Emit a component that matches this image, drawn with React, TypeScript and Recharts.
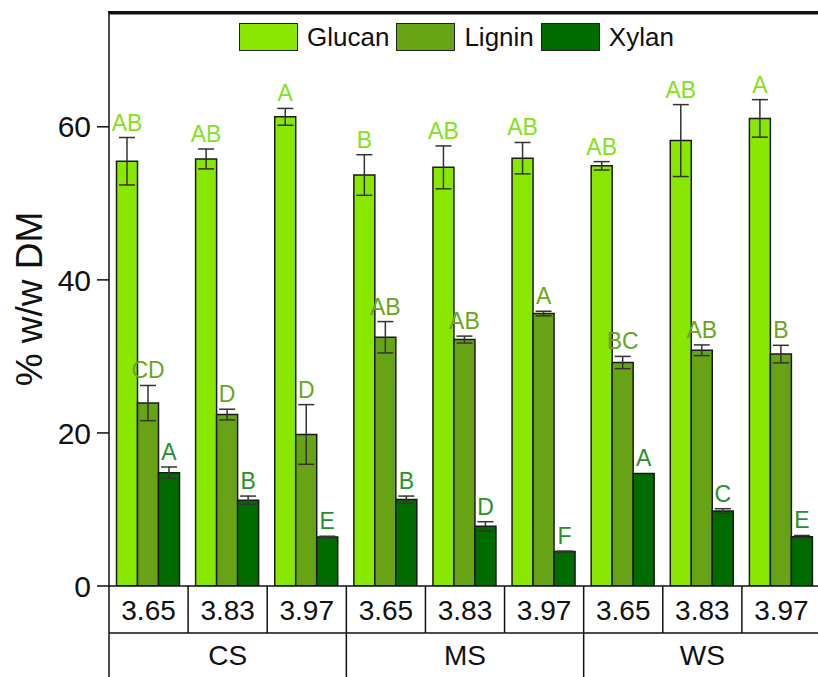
import React from 'react';
import {
  BarChart,
  Bar,
  XAxis,
  YAxis,
  ErrorBar,
  LabelList,
  Legend,
  ReferenceLine
} from 'recharts';

const categories = ['3.65', '3.83', '3.97', '3.65', '3.83', '3.97', '3.65', '3.83', '3.97'];
const groups = ['CS', 'MS', 'WS'];

const glucan = [55.5, 55.8, 61.3, 53.7, 54.7, 55.9, 54.9, 58.2, 61.1];
const glucanErr = [3.1, 1.3, 1.1, 2.65, 2.8, 2.05, 0.55, 4.7, 2.45];
const glucanLetters = ['AB', 'AB', 'A', 'B', 'AB', 'AB', 'AB', 'AB', 'A'];

const lignin = [23.9, 22.4, 19.8, 32.5, 32.2, 35.6, 29.2, 30.8, 30.3];
const ligninErr = [2.3, 0.7, 3.9, 2.05, 0.45, 0.3, 0.8, 0.7, 1.15];
const ligninLetters = ['CD', 'D', 'D', 'AB', 'AB', 'A', 'BC', 'AB', 'B'];

const xylan = [14.8, 11.2, 6.4, 11.3, 7.8, 4.5, 14.7, 9.8, 6.45];
const xylanErr = [0.75, 0.55, 0.1, 0.45, 0.6, 0.05, 0, 0.3, 0.15];
const xylanLetters = ['A', 'B', 'E', 'B', 'D', 'F', 'A', 'C', 'E'];

const yTicks = [0, 20, 40, 60];

const FONT = '"Liberation Sans", Arial, sans-serif';
const CHART_W = 822;
const CHART_H = 677;
const PLOT_TOP = 12;
const Y_AXIS_W = 109;
const X_AXIS_H = 91;
const AXIS_Y = CHART_H - X_AXIS_H; // bottom of plot area
const ROW_H = 47;

const series = [
  { key: 'glucan', name: 'Glucan', fill: '#8ae800', text: '#86e01c', letters: glucanLetters, errs: glucanErr },
  { key: 'lignin', name: 'Lignin', fill: '#68a315', text: '#6aa51e', letters: ligninLetters, errs: ligninErr },
  { key: 'xylan', name: 'Xylan', fill: '#006c00', text: '#2a8f2a', letters: xylanLetters, errs: xylanErr },
];

const data = categories.map((ph, i) => ({
  ph,
  glucan: glucan[i],
  glucanErr: glucanErr[i],
  lignin: lignin[i],
  ligninErr: ligninErr[i],
  xylan: xylan[i],
  xylanErr: xylanErr[i],
}));

// table-like category axis: pH row, then group row
const CategoryTick = (props: any) => {
  const { x, payload } = props;
  const i: number = payload?.index ?? props.index ?? 0;
  const half: number = payload?.offset ? payload.offset : 39.5;
  const left = x - half;
  const right = x + half;
  const lineProps = { stroke: '#111', strokeWidth: 1.5 };
  return (
    <g>
      <text x={x} y={AXIS_Y + 34} textAnchor="middle" fontSize={28} fill="#111" fontFamily={FONT}>
        {categories[i]}
      </text>
      <line x1={left} x2={right} y1={AXIS_Y + ROW_H} y2={AXIS_Y + ROW_H} {...lineProps} />
      {i === 0 && <line x1={left} x2={left} y1={AXIS_Y} y2={CHART_H} {...lineProps} />}
      <line x1={right} x2={right} y1={AXIS_Y} y2={i % 3 === 2 ? CHART_H : AXIS_Y + ROW_H} {...lineProps} />
      {/* frame line along the top of the plot, one cell at a time */}
      <rect x={left - 1} y={PLOT_TOP - 1} width={2 * half + 2} height={2} fill="#111" />
      {i % 3 === 1 && (
        <text x={x} y={AXIS_Y + 79} textAnchor="middle" fontSize={28} fill="#111" fontFamily={FONT}>
          {groups[Math.floor(i / 3)]}
        </text>
      )}
    </g>
  );
};

const makeLetterLabel = (letters: string[], errs: number[], color: string) => (props: any) => {
  const vb = props.viewBox ?? props;
  const { x, y, width, height } = vb;
  const idx: number = props.index;
  const value = Number(props.value);
  const pxPerUnit = value ? Math.abs(height) / value : 0;
  const top = y - (errs[idx] ?? 0) * pxPerUnit;
  return (
    <text x={x + width / 2} y={top - 7} textAnchor="middle" fontSize={23} fill={color} fontFamily={FONT}>
      {letters[idx]}
    </text>
  );
};

const LegendContent = () => (
  <div style={{ display: 'flex', alignItems: 'center', fontFamily: FONT, fontSize: 26, color: '#111' }}>
    {series.map((s) => (
      <div key={s.key} style={{ display: 'flex', alignItems: 'center', marginRight: 7 }}>
        <div
          style={{
            width: 57,
            height: 26,
            background: s.fill,
            border: '1.5px solid #222',
            marginRight: 9,
          }}
        />
        <span style={{ lineHeight: '30px' }}>{s.name}</span>
      </div>
    ))}
  </div>
);

const YLabel = (props: any) => {
  const vb = props.viewBox ?? { x: 0, y: PLOT_TOP, height: AXIS_Y - PLOT_TOP };
  const cx = vb.x + 42;
  const cy = vb.y + vb.height / 2;
  return (
    <text
      x={cx}
      y={cy}
      transform={`rotate(-90, ${cx}, ${cy})`}
      textAnchor="middle"
      fontSize={37}
      fill="#111"
      fontFamily={FONT}
    >
      % w/w DM
    </text>
  );
};

export default function App() {
  return (
    <div
      style={{
        position: 'absolute',
        left: 0,
        top: 0,
        width: 818,
        height: 677,
        overflow: 'hidden',
        background: '#fff',
      }}
    >
      <BarChart
        width={CHART_W}
        height={CHART_H}
        data={data}
        margin={{ top: PLOT_TOP, right: 1, left: 0, bottom: 0 }}
        barCategoryGap={7.5}
        barGap={0}
      >
        <XAxis
          dataKey="ph"
          interval={0}
          height={X_AXIS_H}
          tickLine={false}
          axisLine={{ stroke: '#111', strokeWidth: 1.5 }}
          tick={<CategoryTick />}
        />
        <YAxis
          width={Y_AXIS_W}
          domain={[0, 75]}
          ticks={yTicks}
          allowDataOverflow
          tickSize={12}
          tickMargin={6}
          tickLine={{ stroke: '#111', strokeWidth: 1.5 }}
          axisLine={{ stroke: '#111', strokeWidth: 1.5 }}
          tick={{ fontSize: 30, fill: '#111', fontFamily: FONT }}
          label={<YLabel />}
        />
        <ReferenceLine y={74.8} stroke="#111" strokeWidth={2} />
        <Legend
          layout="horizontal"
          verticalAlign="middle"
          align="center"
          content={<LegendContent />}
          wrapperStyle={{ position: 'absolute', top: 22, left: 239, width: 'auto' }}
        />
        {series.map((s) => (
          <Bar
            key={s.key}
            dataKey={s.key}
            name={s.name}
            fill={s.fill}
            stroke="#1a1a1a"
            strokeWidth={1.5}
            isAnimationActive={false}
          >
            <ErrorBar dataKey={`${s.key}Err`} width={8} stroke="#333" strokeWidth={1.5} />
            <LabelList dataKey={s.key} content={makeLetterLabel(s.letters, s.errs, s.text)} />
          </Bar>
        ))}
      </BarChart>
    </div>
  );
}
